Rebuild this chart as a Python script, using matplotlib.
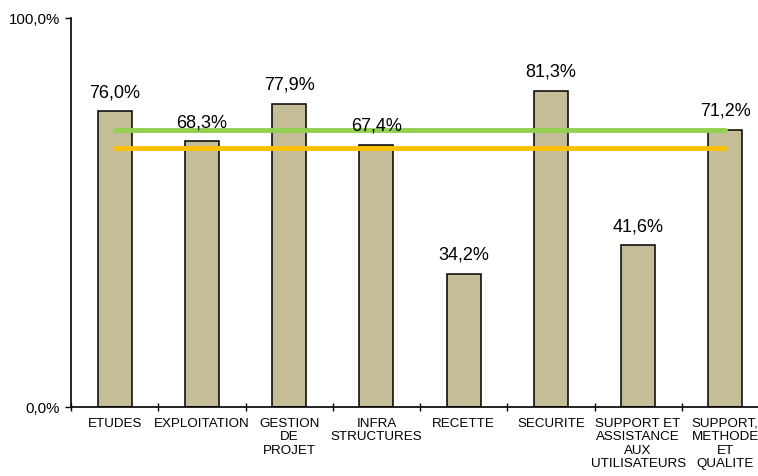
import matplotlib
matplotlib.use('Agg')
import matplotlib.pyplot as plt
import numpy as np

categories = ['ETUDES', 'EXPLOITATION', 'GESTION\nDE\nPROJET', 'INFRA\nSTRUCTURES',
              'RECETTE', 'SECURITE', 'SUPPORT ET\nASSISTANCE\nAUX\nUTILISATEURS',
              'SUPPORT,\nMETHODE\nET\nQUALITE']
values = [76.0, 68.3, 77.9, 67.4, 34.2, 81.3, 41.6, 71.2]
green_level = [71.2] * len(categories)
orange_level = [66.5] * len(categories)

plt.rcParams['font.family'] = ['Liberation Sans', 'DejaVu Sans']

W, H = 758, 477
fig = plt.figure(figsize=(W / 100, H / 100), dpi=100)
ax = fig.add_axes([71 / W, (H - 408) / H, (769 - 71) / W, (408 - 19) / H])

x = np.arange(len(categories))
ax.bar(x, values, width=0.39, color='#C4BD97', edgecolor='black', linewidth=1.1, zorder=2)
ax.plot(x, green_level, color='#92D050', linewidth=3.5, solid_capstyle='round', zorder=3)
ax.plot(x, orange_level, color='#FFC000', linewidth=3.5, solid_capstyle='round', zorder=3)

for xi, v in zip(x, values):
    ax.annotate(('%.1f%%' % v).replace('.', ','), (xi, v), xytext=(0, 8),
                textcoords='offset points', ha='center', va='bottom', fontsize=13)

ax.set_xlim(-0.5, len(categories) - 0.5)
ax.set_ylim(0, 100)
ax.set_yticks([0, 100])
ax.set_yticklabels(['0,0%', '100,0%'], fontsize=10.8)
ax.set_xticks(np.arange(len(categories) + 1) - 0.5)
ax.set_xticklabels([])
ax.set_xticks(x, minor=True)
ax.set_xticklabels(categories, minor=True, fontsize=9.6, linespacing=1.16)
ax.tick_params(axis='x', which='minor', length=0, pad=7)
ax.tick_params(axis='x', which='major', direction='inout', length=6, width=1)
ax.tick_params(axis='y', direction='out', length=4, width=1, pad=4)
for s in ['top', 'right']:
    ax.spines[s].set_visible(False)
for s in ['left', 'bottom']:
    ax.spines[s].set_linewidth(1.2)

fig.savefig('out.png', dpi=100)
